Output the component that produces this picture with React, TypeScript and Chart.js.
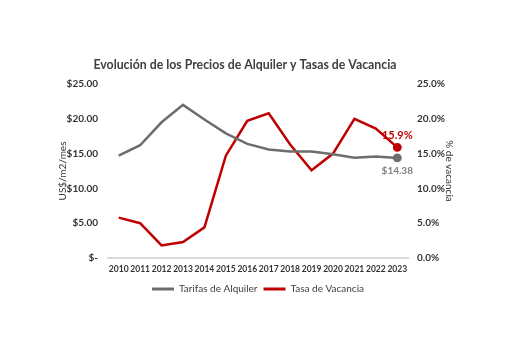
import React, { useEffect, useRef } from "react";
import { Chart, registerables } from "chart.js";

Chart.register(...registerables);

const years = ["2010","2011","2012","2013","2014","2015","2016","2017","2018","2019","2020","2021","2022","2023"];
const rentRates = [14.7, 16.2, 19.5, 22.0, 19.9, 17.9, 16.4, 15.6, 15.3, 15.3, 14.9, 14.4, 14.6, 14.38];
const vacancyRates = [5.8, 5.0, 1.8, 2.3, 4.4, 14.7, 19.7, 20.8, 16.3, 12.6, 15.0, 20.0, 18.6, 15.9];
const titleText = "Evolución de los Precios de Alquiler y Tasas de Vacancia";
const leftAxisTitle = "US$/m2/mes";
const rightAxisTitle = "% de vacancia";
const seriesNames = ["Tarifas de Alquiler", "Tasa de Vacancia"];

const GRAY = "#6d6d6d";
const RED = "#c00000";
const FONT = "Lato, 'DejaVu Sans', sans-serif";

const customPlugin = {
  id: "customDraw",
  afterDatasetsDraw(chart: any) {
    const ctx = chart.ctx;
    ctx.save();
    ctx.font = `bold 12.3px ${FONT}`;
    ctx.fillStyle = "#404040";
    ctx.textAlign = "center";
    ctx.textBaseline = "middle";
    ctx.fillText(titleText, 245, 65);
    const m0 = chart.getDatasetMeta(0);
    const m1 = chart.getDatasetMeta(1);
    const p0 = m0.data[m0.data.length - 1];
    const p1 = m1.data[m1.data.length - 1];
    ctx.font = `bold 11px ${FONT}`;
    ctx.fillStyle = RED;
    ctx.fillText(vacancyRates[vacancyRates.length - 1].toFixed(1) + "%", p1.x, p1.y - 12);
    ctx.font = `bold 10px ${FONT}`;
    ctx.fillStyle = "#7f7f7f";
    ctx.fillText("$" + rentRates[rentRates.length - 1].toFixed(2), p0.x, p0.y + 13);
    ctx.restore();
  },
};

export default function App() {
  const ref = useRef<HTMLCanvasElement>(null);
  useEffect(() => {
    if (!ref.current) return;
    const lastOnly = (n: number, r: number) => years.map((_, i) => (i === n - 1 ? r : 0));
    const chart = new Chart(ref.current, {
      type: "line",
      data: {
        labels: years,
        datasets: [
          {
            label: seriesNames[0],
            data: rentRates,
            borderColor: GRAY,
            backgroundColor: GRAY,
            borderWidth: 2.5,
            pointRadius: lastOnly(years.length, 3.2),
            pointBackgroundColor: GRAY,
            tension: 0,
            yAxisID: "y",
          },
          {
            label: seriesNames[1],
            data: vacancyRates,
            borderColor: RED,
            backgroundColor: RED,
            borderWidth: 2.5,
            pointRadius: lastOnly(years.length, 3.2),
            pointBackgroundColor: RED,
            tension: 0,
            yAxisID: "y1",
          },
        ],
      },
      options: {
        responsive: true,
        maintainAspectRatio: false,
        animation: false,
        layout: { padding: { top: 84, left: 0, right: 0, bottom: 49 } },
        plugins: {
          title: { display: false },
          tooltip: { enabled: false },
          legend: {
            display: true,
            position: "bottom",
            fullSize: false,
            labels: {
              font: { family: FONT, size: 10 },
              color: "#404040",
              boxWidth: 22,
              boxHeight: 3,
              padding: 6,
              generateLabels: (c: any) =>
                c.data.datasets.map((d: any, i: number) => ({
                  text: d.label,
                  fillStyle: d.borderColor,
                  strokeStyle: d.borderColor,
                  lineWidth: 0,
                  hidden: false,
                  datasetIndex: i,
                  fontColor: "#404040",
                })),
            },
          },
        },
        scales: {
          x: {
            offset: true,
            grid: { display: false, drawTicks: false, offset: true },
            border: { display: true, color: "#d9d9d9", width: 2 },
            ticks: {
              font: { family: FONT, size: 8.5, weight: "bold" },
              color: "#333333",
              padding: 6,
              maxRotation: 0,
              autoSkip: false,
            },
            afterFit: (s: any) => { s.height = 20; },
          },
          y: {
            position: "left",
            min: 0,
            max: 25,
            grid: { display: false, drawTicks: false },
            border: { display: false },
            ticks: {
              stepSize: 5,
              font: { family: FONT, size: 10, weight: "bold" },
              color: "#333333",
              padding: 10,
              callback: (v: any) => (v === 0 ? "$-" : "$" + Number(v).toFixed(2)),
            },
            title: {
              display: true,
              text: leftAxisTitle,
              font: { family: FONT, size: 10 },
              color: "#333333",
              padding: { top: 57, bottom: 0 },
            },
            afterFit: (s: any) => { s.width = 108; },
          },
          y1: {
            position: "right",
            min: 0,
            max: 25,
            grid: { display: false, drawTicks: false },
            border: { display: false },
            ticks: {
              stepSize: 5,
              font: { family: FONT, size: 10, weight: "bold" },
              color: "#333333",
              padding: 9,
              callback: (v: any) => Number(v).toFixed(1) + "%",
            },
            title: {
              display: true,
              text: rightAxisTitle,
              font: { family: FONT, size: 10 },
              color: "#333333",
              padding: { top: 76, bottom: 0 },
            },
            afterFit: (s: any) => { s.width = 123; },
          },
        },
      } as any,
      plugins: [customPlugin],
    });
    return () => chart.destroy();
  }, []);
  return (
    <div style={{ position: "absolute", left: 0, top: 0, width: 531, height: 353, background: "#fff" }}>
      <canvas ref={ref} />
    </div>
  );
}
